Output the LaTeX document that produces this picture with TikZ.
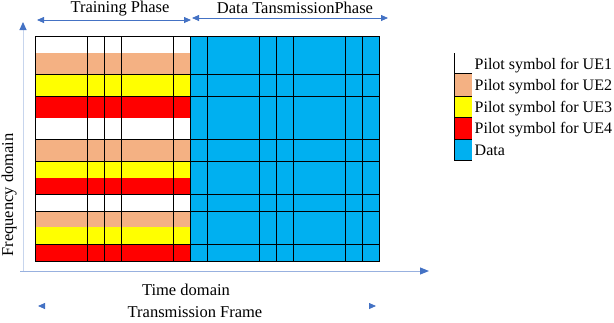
\documentclass[tikz,border=0pt]{standalone}
\usepackage{fontspec}
\setmainfont{Liberation Serif}
\usetikzlibrary{arrows.meta}
\definecolor{peach}{HTML}{F4B183}
\definecolor{ylw}{HTML}{FFFF00}
\definecolor{rd}{HTML}{FF0000}
\definecolor{sky}{HTML}{00B0F0}
\definecolor{arrblue}{HTML}{4472C4}
\begin{document}
\begin{tikzpicture}[x=1pt,y=-1pt,
  lbl/.style={font=\fontsize{16.5}{18}\selectfont, inner sep=0pt},
  leg/.style={font=\fontsize{16}{18}\selectfont, inner sep=0pt, anchor=base west},
  gridline/.style={black, line width=0.9pt},
  phasearrow/.style={arrblue, line width=0.8pt, {Triangle[length=7pt,width=6pt]}-{Triangle[length=7pt,width=6pt]}},
]
\useasboundingbox (0,0) rectangle (614,322);
% ---- grid ----
\foreach \a/\b/\c in {36/52.7/white,52.7/74/peach,74/96/ylw,96/117.7/rd,117.7/139.3/white,139.3/161.3/peach,161.3/177.7/ylw,177.7/194.3/rd,194.3/211/white,211/227.3/peach,227.3/244/ylw,244/261/rd}
  \fill[\c] (35,\a) rectangle (190,\b);
\fill[sky] (190,36) rectangle (379,261);
\foreach \x in {87,104.7,121.3,173.3,190,207.3,259.3,276.7,293.3,345.3,362.7}
  \draw[gridline] (\x,36) -- (\x,261);
\foreach \y in {74,96,139.3,161.3,194.3,211,244}
  \draw[gridline] (35,\y) -- (379,\y);
\draw[gridline] (35,36) rectangle (379,261);
% ---- axes ----
\coordinate (org) at (23,271);
\coordinate (ytip) at (23,22);
\coordinate (xstart) at (20,271);
\coordinate (xtip) at (429,271);
\draw[arrblue!30, line width=1pt, -{Triangle[length=8pt,width=7pt,color=arrblue]}] (org) -- (ytip);
\draw[arrblue!55, line width=1pt, -{Triangle[length=9pt,width=7pt,color=arrblue]}] (xstart) -- (xtip);
% ---- phase arrows ----
\coordinate (tpL) at (37,20);
\coordinate (tpR) at (191,20);
\coordinate (dpL) at (192,18);
\coordinate (dpR) at (388,18);
\draw[phasearrow] (tpL) -- (tpR);
\draw[phasearrow] (dpL) -- (dpR);
\coordinate (tfL) at (38,306);
\coordinate (tfR) at (376,306);
\draw[white, line width=0.8pt, {Triangle[length=7pt,width=6pt,color=arrblue]}-{Triangle[length=7pt,width=6pt,color=arrblue]}] (tfL) -- (tfR);
% ---- labels ----
\node[lbl, anchor=base] (tp) at (120,12) {Training Phase};
\node[lbl, anchor=base] (dp) at (295,13) {Data TansmissionPhase};
\node[lbl, anchor=base] (td) at (186,295) {Time domain};
\node[lbl, anchor=base] (tf) at (195,317.5) {Transmission Frame};
\node[lbl, anchor=base, rotate=90] (fd) at (13,195) {Frequency domain};
% ---- legend ----
\foreach \a/\b/\c in {53.3/73.3/white,73.3/96/peach,96/117.7/ylw,117.7/139.3/rd,139.3/160.7/sky}
  \fill[\c] (454.3,\a) rectangle (471.7,\b);
\draw[gridline] (454.3,53.3) -- (454.3,160.7);
\foreach \y in {73.3,96,117.7,139.3,160.7}
  \draw[gridline] (454.3,\y) -- (471.7,\y);
\node[leg] (l1) at (474.5,69) {Pilot symbol for UE1};
\node[leg] (l2) at (474.5,90.7) {Pilot symbol for UE2};
\node[leg] (l3) at (474.5,112.2) {Pilot symbol for UE3};
\node[leg] (l4) at (474.5,133.8) {Pilot symbol for UE4};
\node[leg] (l5) at (474.5,155.5) {Data};
\end{tikzpicture}
\end{document}
